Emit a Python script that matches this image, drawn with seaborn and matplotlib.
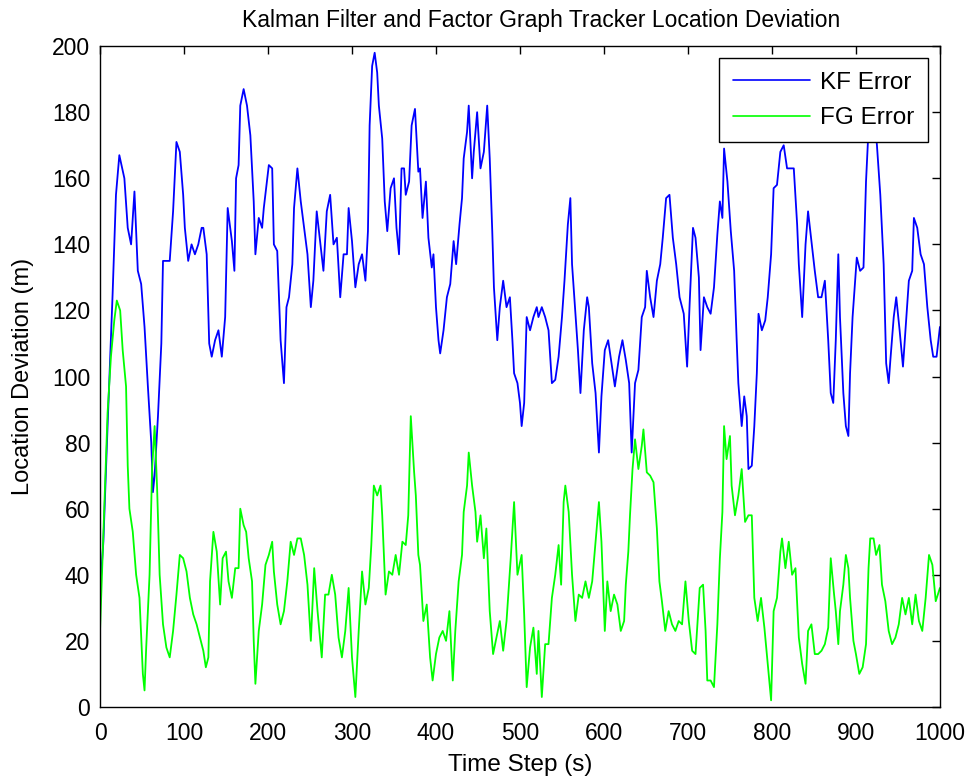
import matplotlib
matplotlib.use("Agg")
import matplotlib.pyplot as plt
import seaborn as sns
import pandas as pd

# ---- data (time step, deviation in metres) ----
kf_t = [0, 4, 9, 15, 19, 23, 29, 33, 37, 41, 45, 49, 53, 57, 61, 63, 65, 69, 73, 75, 79, 83, 87, 91, 95, 99,
        101, 105, 109, 113, 117, 121, 123, 127, 130, 133, 137, 141, 145, 149, 152, 157, 160, 162, 165, 167, 171,
        175, 179, 183, 185, 189, 193, 195, 201, 205, 207, 211, 215, 219, 222, 225, 229, 231, 235, 239, 243, 247,
        251, 254, 258, 262, 266, 270, 274, 278, 282, 286, 290, 294, 296, 300, 304, 308, 312, 316, 319, 321, 324,
        327, 330, 332, 336, 339, 342, 346, 350, 353, 356, 359, 362, 364, 368, 371, 375, 379, 381, 384, 388, 391,
        395, 397, 400, 403, 405, 409, 413, 417, 421, 424, 428, 431, 433, 437, 439, 443, 445, 449, 453, 457, 461,
        464, 467, 469, 473, 476, 480, 484, 488, 491, 493, 497, 500, 502, 505, 508, 512, 516, 520, 522, 526, 530,
        534, 538, 542, 546, 550, 553, 557, 560, 562, 566, 569, 572, 576, 580, 582, 586, 590, 594, 597, 601, 605,
        609, 613, 618, 622, 626, 630, 633, 637, 641, 645, 649, 651, 655, 659, 663, 667, 670, 674, 678, 682, 686,
        690, 695, 699, 702, 706, 709, 713, 715, 719, 723, 727, 731, 735, 738, 741, 743, 747, 751, 755, 758, 760,
        764, 767, 770, 772, 776, 779, 782, 784, 788, 792, 795, 799, 802, 806, 810, 814, 818, 822, 826, 830, 832,
        836, 840, 843, 847, 851, 855, 859, 863, 867, 870, 873, 876, 879, 881, 885, 888, 891, 893, 896, 899, 901,
        905, 909, 912, 915, 919, 923, 925, 929, 933, 936, 939, 941, 945, 948, 952, 956, 959, 963, 967, 969, 973,
        977, 981, 985, 989, 992, 996, 1000]
kf_err = [35, 50, 85, 125, 155, 167, 160, 145, 140, 156, 132, 128, 115, 97, 80, 65, 70, 88, 110, 135, 135, 135,
          150, 171, 168, 155, 145, 135, 140, 137, 140, 145, 145, 137, 110, 106, 111, 114, 106, 118, 151, 141, 132,
          160, 164, 182, 187, 182, 173, 153, 137, 148, 145, 151, 164, 163, 140, 138, 111, 98, 121, 124, 134, 151,
          163, 153, 145, 137, 121, 129, 150, 141, 132, 150, 155, 140, 142, 124, 137, 137, 151, 141, 127, 134, 137,
          129, 144, 176, 194, 198, 192, 182, 172, 153, 144, 157, 160, 145, 137, 163, 163, 155, 159, 176, 181, 162,
          163, 148, 159, 142, 133, 137, 121, 111, 107, 114, 124, 128, 141, 134, 146, 154, 166, 174, 182, 160, 168,
          180, 163, 168, 182, 166, 144, 127, 111, 121, 129, 121, 124, 111, 101, 98, 92, 85, 92, 118, 114, 118, 121,
          118, 121, 118, 114, 98, 99, 106, 118, 129, 146, 154, 134, 119, 108, 95, 114, 124, 121, 104, 95, 77, 94,
          108, 111, 104, 97, 106, 111, 105, 98, 77, 98, 102, 118, 121, 132, 124, 118, 129, 134, 142, 154, 155, 142,
          134, 124, 119, 103, 122, 145, 142, 130, 108, 124, 121, 119, 127, 143, 153, 148, 169, 159, 144, 132, 111,
          98, 85, 94, 88, 72, 73, 85, 101, 119, 114, 117, 124, 137, 157, 158, 168, 170, 163, 163, 163, 146, 134,
          118, 140, 150, 141, 132, 124, 124, 129, 111, 95, 92, 111, 137, 118, 95, 85, 82, 101, 118, 129, 136, 132,
          133, 159, 175, 176, 176, 170, 155, 134, 104, 98, 105, 118, 124, 114, 103, 114, 129, 132, 148, 145, 137,
          134, 121, 111, 106, 106, 115]

fg_t = [0, 5, 9, 13, 17, 20, 24, 27, 31, 33, 35, 39, 43, 47, 51, 53, 55, 59, 62, 65, 68, 71, 75, 79, 83, 87, 91,
        95, 99, 103, 107, 111, 115, 119, 123, 126, 129, 131, 135, 139, 143, 146, 150, 153, 157, 161, 165, 167,
        171, 174, 177, 181, 183, 185, 189, 193, 197, 201, 205, 207, 211, 215, 219, 223, 227, 231, 235, 239, 243,
        247, 251, 255, 259, 264, 268, 272, 276, 280, 284, 288, 292, 296, 300, 304, 308, 312, 316, 320, 323, 326,
        330, 334, 336, 340, 344, 348, 352, 356, 360, 364, 367, 370, 374, 376, 379, 381, 385, 389, 393, 396, 400,
        404, 408, 412, 416, 420, 423, 427, 431, 433, 437, 439, 443, 447, 449, 453, 457, 460, 464, 468, 472, 476,
        480, 484, 489, 493, 497, 502, 505, 508, 512, 516, 520, 522, 526, 530, 534, 538, 542, 546, 549, 552, 554,
        558, 562, 566, 570, 574, 578, 582, 586, 590, 594, 597, 601, 604, 608, 612, 616, 620, 624, 626, 629, 631,
        634, 637, 641, 645, 647, 651, 655, 659, 663, 666, 669, 673, 677, 681, 685, 689, 693, 697, 701, 705, 709,
        714, 718, 721, 723, 727, 731, 735, 738, 741, 743, 746, 750, 752, 756, 760, 764, 768, 772, 776, 779, 783,
        787, 791, 795, 799, 802, 806, 810, 812, 816, 820, 824, 828, 832, 836, 840, 843, 847, 851, 855, 859, 863,
        867, 870, 874, 876, 879, 881, 885, 888, 891, 893, 897, 900, 904, 908, 912, 915, 917, 921, 924, 928, 931,
        935, 939, 943, 947, 951, 955, 959, 963, 967, 971, 975, 979, 983, 987, 991, 995, 1000]
fg_err = [23, 60, 89, 106, 117, 123, 120, 108, 97, 73, 60, 53, 40, 33, 10, 5, 18, 40, 72, 85, 66, 40, 25, 18, 15,
          23, 34, 46, 45, 41, 33, 28, 25, 21, 17, 12, 15, 38, 53, 47, 31, 45, 47, 38, 33, 42, 42, 60, 55, 53, 45,
          38, 20, 7, 23, 31, 43, 46, 50, 41, 31, 25, 29, 38, 50, 46, 51, 51, 46, 37, 20, 42, 29, 15, 34, 34, 40, 34,
          21, 15, 23, 36, 15, 3, 23, 41, 31, 36, 49, 67, 64, 67, 58, 34, 41, 40, 46, 40, 50, 49, 58, 88, 71, 64, 46,
          43, 26, 31, 15, 8, 16, 21, 23, 20, 29, 8, 23, 38, 46, 59, 67, 77, 67, 59, 50, 58, 45, 54, 29, 16, 21, 26,
          17, 26, 45, 62, 40, 46, 28, 6, 18, 24, 10, 23, 3, 19, 19, 33, 40, 49, 37, 62, 67, 59, 40, 26, 34, 33, 38,
          33, 38, 50, 62, 50, 23, 38, 29, 34, 31, 23, 26, 37, 47, 58, 72, 81, 72, 79, 84, 71, 70, 68, 54, 38, 32, 23,
          29, 25, 23, 26, 25, 38, 26, 17, 16, 36, 37, 23, 8, 8, 6, 25, 45, 59, 85, 75, 82, 67, 58, 64, 72, 56, 58, 58,
          33, 26, 33, 24, 13, 2, 29, 33, 47, 51, 42, 50, 40, 42, 21, 13, 7, 23, 25, 16, 16, 17, 19, 24, 45, 34, 29,
          19, 29, 37, 46, 42, 33, 20, 16, 10, 12, 19, 42, 51, 51, 46, 49, 37, 32, 23, 19, 21, 25, 33, 28, 33, 25, 34,
          26, 23, 33, 46, 43, 32, 36]

x_ticks = [0, 100, 200, 300, 400, 500, 600, 700, 800, 900, 1000]
y_ticks = [0, 20, 40, 60, 80, 100, 120, 140, 160, 180, 200]

kf_df = pd.DataFrame({"t": kf_t, "err": kf_err})
fg_df = pd.DataFrame({"t": fg_t, "err": fg_err})

sns.set_style("white")
plt.rcParams["font.family"] = ["Liberation Sans", "DejaVu Sans"]
plt.rcParams["text.color"] = "black"

fig = plt.figure(figsize=(9.71, 7.82), dpi=100, facecolor="white")
ax = fig.add_axes([0.103, 0.096, 0.865, 0.845])

sns.lineplot(data=kf_df, x="t", y="err", color="#0000ff", linewidth=1.3, label="KF Error", ax=ax)
sns.lineplot(data=fg_df, x="t", y="err", color="#00ff00", linewidth=1.3, label="FG Error", ax=ax)

ax.set_xlim(0, 1000)
ax.set_ylim(0, 200)
ax.set_xticks(x_ticks)
ax.set_yticks(y_ticks)
ax.tick_params(direction="in", length=6, width=1, top=True, right=True,
               labelsize=16.5, colors="black", pad=7)
ax.tick_params(axis="x", pad=11)
for s in ax.spines.values():
    s.set_visible(True)
    s.set_color("black")
    s.set_linewidth(1.0)

ax.set_xlabel("Time Step (s)", fontsize=17.5, labelpad=6, color="black")
ax.set_ylabel("Location Deviation (m)", fontsize=17, labelpad=13, color="black")
ax.set_title("Kalman Filter and Factor Graph Tracker Location Deviation", fontsize=16.5, pad=14,
             color="black", x=0.525)

leg = ax.legend(loc="upper right", fontsize=17.5, frameon=True, fancybox=False,
                framealpha=1, edgecolor="black", borderaxespad=0.5, handlelength=3.2,
                handletextpad=0.4, borderpad=0.55, labelspacing=0.55)
leg.get_frame().set_linewidth(1.0)
for line in leg.get_lines():
    line.set_linewidth(1.2)

fig.savefig("out.png", dpi=100, facecolor="white")
